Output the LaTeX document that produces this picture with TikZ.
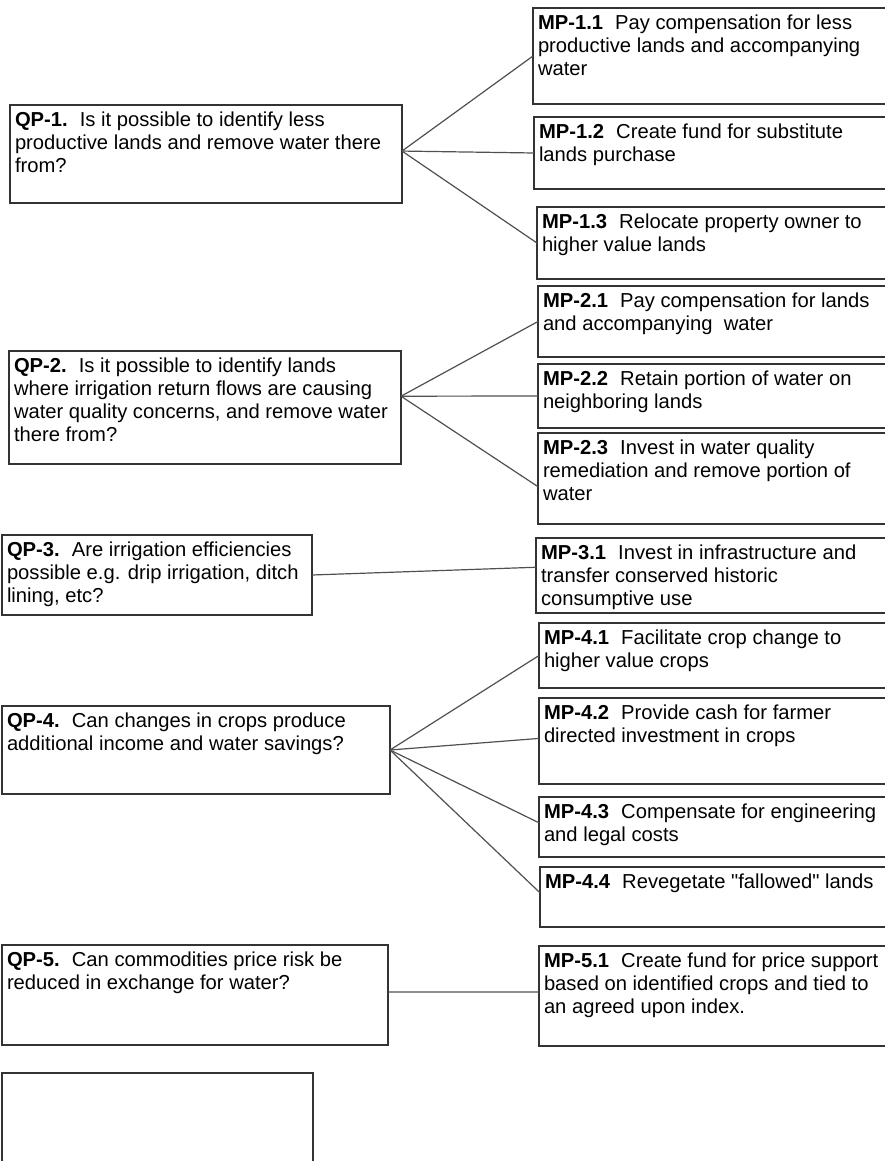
\documentclass[tikz,border=0pt]{standalone}
\usepackage{fontspec}
\setmainfont{Liberation Sans}
\usetikzlibrary{calc}
\definecolor{boxline}{HTML}{333333}
\definecolor{connline}{HTML}{505050}
\newcommand\bfl[1]{\textbf{#1}\hspace{0.6em}}
\begin{document}
\begin{tikzpicture}[x=1pt,y=-1pt,
  box/.style={draw=boxline, line width=1.3pt, rectangle, anchor=north west, inner sep=0pt, outer sep=0pt},
  txt/.style={anchor=north west, inner sep=0pt, outer sep=0pt, align=left, font=\fontsize{20.2}{23.3}\selectfont},
  conn/.style={draw=connline, line width=1.2pt}]
\useasboundingbox (0,0) rectangle (885,1161);
\fill[white] (0,0) rectangle (885,1161);

% question boxes
\node[box, minimum width=392pt, minimum height=98pt] (QP1) at (10,105) {};
\node[box, minimum width=392pt, minimum height=113pt] (QP2) at (9,351) {};
\node[box, minimum width=310pt, minimum height=80pt] (QP3) at (2,535) {};
\node[box, minimum width=388pt, minimum height=88pt] (QP4) at (2,706) {};
\node[box, minimum width=386pt, minimum height=100pt] (QP5) at (2,945) {};
\node[box, minimum width=311pt, minimum height=97pt] (QP6) at (2,1073) {};

% measure boxes
\node[box, minimum width=357pt, minimum height=96pt] (MP11) at (533,8) {};
\node[box, minimum width=356pt, minimum height=72pt] (MP12) at (534,117) {};
\node[box, minimum width=353pt, minimum height=72pt] (MP13) at (537,207) {};
\node[box, minimum width=352pt, minimum height=71pt] (MP21) at (538,286) {};
\node[box, minimum width=352pt, minimum height=64pt] (MP22) at (538,364) {};
\node[box, minimum width=352pt, minimum height=91pt] (MP23) at (538,433) {};
\node[box, minimum width=354pt, minimum height=75pt] (MP31) at (536,538) {};
\node[box, minimum width=351pt, minimum height=65pt] (MP41) at (539,623) {};
\node[box, minimum width=351pt, minimum height=86pt] (MP42) at (539,698) {};
\node[box, minimum width=351pt, minimum height=60pt] (MP43) at (539,797) {};
\node[box, minimum width=350pt, minimum height=60pt] (MP44) at (540,867) {};
\node[box, minimum width=351pt, minimum height=100pt] (MP51) at (539,946) {};

% texts
\node[txt] (QP1t) at ($(QP1.north west)+(5,4.7)$) {\strut\bfl{QP-1.}Is it possible to identify less\\productive lands and remove water there\\from?};
\node[txt] (QP2t) at ($(QP2.north west)+(5,4.7)$) {\strut\bfl{QP-2.}Is it possible to identify lands\\where irrigation return flows are causing\\water quality concerns, and remove water\\there from?};
\node[txt] (QP3t) at ($(QP3.north west)+(5,4.7)$) {\strut\bfl{QP-3.}Are irrigation efficiencies\\possible e.g. drip irrigation, ditch\\lining, etc?};
\node[txt] (QP4t) at ($(QP4.north west)+(5,4.7)$) {\strut\bfl{QP-4.}Can changes in crops produce\\additional income and water savings?};
\node[txt] (QP5t) at ($(QP5.north west)+(5,4.7)$) {\strut\bfl{QP-5.}Can commodities price risk be\\reduced in exchange for water?};

\node[txt] (MP11t) at ($(MP11.north west)+(5,4.7)$) {\strut\bfl{MP-1.1}Pay compensation for less\\productive lands and accompanying\\water};
\node[txt] (MP12t) at ($(MP12.north west)+(5,4.7)$) {\strut\bfl{MP-1.2}Create fund for substitute\\lands purchase};
\node[txt] (MP13t) at ($(MP13.north west)+(5,4.7)$) {\strut\bfl{MP-1.3}Relocate property owner to\\higher value lands};
\node[txt] (MP21t) at ($(MP21.north west)+(5,4.7)$) {\strut\bfl{MP-2.1}Pay compensation for lands\\and accompanying\ \ water};
\node[txt] (MP22t) at ($(MP22.north west)+(5,4.7)$) {\strut\bfl{MP-2.2}Retain portion of water on\\neighboring lands};
\node[txt] (MP23t) at ($(MP23.north west)+(5,4.7)$) {\strut\bfl{MP-2.3}Invest in water quality\\remediation and remove portion of\\water};
\node[txt] (MP31t) at ($(MP31.north west)+(5,4.7)$) {\strut\bfl{MP-3.1}Invest in infrastructure and\\transfer conserved historic\\consumptive use};
\node[txt] (MP41t) at ($(MP41.north west)+(5,4.7)$) {\strut\bfl{MP-4.1}Facilitate crop change to\\higher value crops};
\node[txt] (MP42t) at ($(MP42.north west)+(5,4.7)$) {\strut\bfl{MP-4.2}Provide cash for farmer\\directed investment in crops};
\node[txt] (MP43t) at ($(MP43.north west)+(5,4.7)$) {\strut\bfl{MP-4.3}Compensate for engineering\\and legal costs};
\node[txt] (MP44t) at ($(MP44.north west)+(5,4.7)$) {\strut\bfl{MP-4.4}Revegetate \textquotedbl fallowed\textquotedbl{} lands};
\node[txt] (MP51t) at ($(MP51.north west)+(5,4.7)$) {\strut\bfl{MP-5.1}Create fund for price support\\based on identified crops and tied to\\an agreed upon index.};

% connectors
\draw[conn] ($(QP1.north east)!0.47!(QP1.south east)$) -- (MP11.west);
\draw[conn] ($(QP1.north east)!0.47!(QP1.south east)$) -- (MP12.west);
\draw[conn] ($(QP1.north east)!0.47!(QP1.south east)$) -- (MP13.west);
\draw[conn] ($(QP2.north east)!0.4!(QP2.south east)$) -- (MP21.west);
\draw[conn] ($(QP2.north east)!0.4!(QP2.south east)$) -- (MP22.west);
\draw[conn] ($(QP2.north east)!0.4!(QP2.south east)$) -- ($(MP23.north west)!0.59!(MP23.south west)$);
\draw[conn] (QP3.east) -- ($(MP31.north west)!0.39!(MP31.south west)$);
\draw[conn] (QP4.east) -- (MP41.west);
\draw[conn] (QP4.east) -- ($(MP42.north west)!0.47!(MP42.south west)$);
\draw[conn] (QP4.east) -- ($(MP43.north west)!0.43!(MP43.south west)$);
\draw[conn] (QP4.east) -- ($(MP44.north west)!0.43!(MP44.south west)$);
\draw[conn] ($(QP5.north east)!0.47!(QP5.south east)$) -- ($(MP51.north west)!0.46!(MP51.south west)$);
\end{tikzpicture}
\end{document}
